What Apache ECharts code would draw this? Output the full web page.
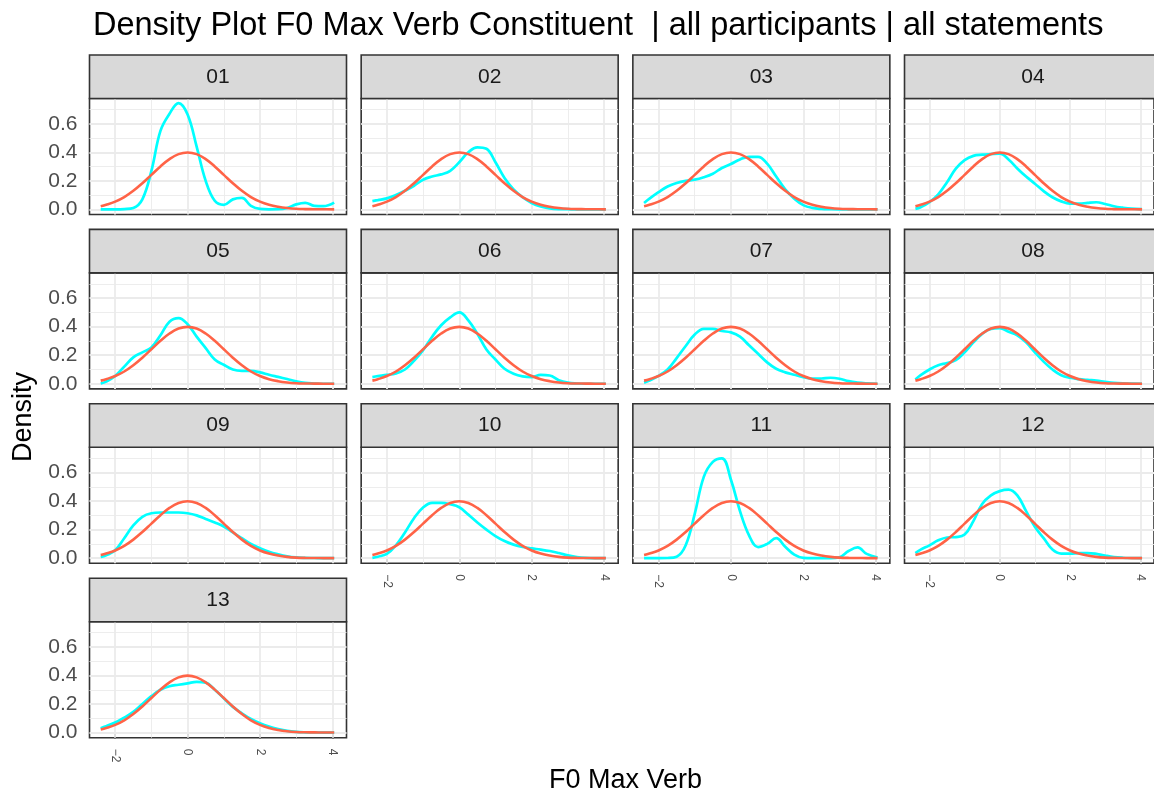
<!DOCTYPE html>
<html>
<head>
<meta charset="utf-8">
<script src="https://cdn.jsdelivr.net/npm/echarts@6/dist/echarts.min.js"></script>
<style>
  html, body { margin: 0; padding: 0; background: #ffffff; }
  #chart { width: 1154px; height: 795px; }
</style>
</head>
<body>
<div id="chart"></div>
<script>
// Facet labels (one panel per participant)
const participants = ['01', '02', '03', '04', '05', '06', '07', '08', '09', '10', '11', '12', '13'];

// Evaluation points of the density curves (F0 Max Verb, z-scored)
const fx = [-2.4, -2.25, -2.0, -1.75, -1.5, -1.25, -1.0, -0.75, -0.5, -0.25, 0, 0.25, 0.5, 0.75,
            1.0, 1.25, 1.5, 1.75, 2.0, 2.25, 2.5, 2.75, 3.0, 3.25, 3.5, 3.75, 4.05];

// Reference normal curve (same in every panel)
const normalCurve = [0.022, 0.032, 0.054, 0.086, 0.130, 0.183, 0.242, 0.301, 0.352, 0.387, 0.399, 0.387, 0.352, 0.301,
                     0.242, 0.183, 0.130, 0.086, 0.054, 0.032, 0.018, 0.009, 0.004, 0.002, 0.001, 0.0004, 0.0001];

// Observed density per participant
const d01 = [0, 0, 0, 0.002, 0.01, 0.07, 0.27, 0.55, 0.67, 0.745, 0.665, 0.44, 0.2, 0.06,
             0.032, 0.07, 0.08, 0.025, 0.003, 0, 0.001, 0.01, 0.035, 0.046, 0.025, 0.022, 0.047];
const d02 = [0.058, 0.065, 0.077, 0.1, 0.13, 0.165, 0.208, 0.23, 0.245, 0.27, 0.33, 0.4, 0.435, 0.425,
             0.33, 0.22, 0.14, 0.085, 0.045, 0.02, 0.007, 0.002, 0.001, 0, 0, 0, 0];
const d03 = [0.045, 0.075, 0.12, 0.16, 0.185, 0.2, 0.208, 0.225, 0.25, 0.29, 0.318, 0.35, 0.368, 0.368,
             0.32, 0.23, 0.14, 0.075, 0.03, 0.01, 0.003, 0.001, 0, 0, 0, 0, 0];
const d04 = [0.003, 0.015, 0.05, 0.105, 0.19, 0.285, 0.345, 0.375, 0.383, 0.387, 0.39, 0.35, 0.287, 0.23,
             0.18, 0.128, 0.085, 0.056, 0.04, 0.04, 0.046, 0.05, 0.038, 0.022, 0.012, 0.005, 0.002];
const d05 = [0.002, 0.015, 0.055, 0.12, 0.185, 0.22, 0.255, 0.34, 0.435, 0.46, 0.417, 0.33, 0.25, 0.17,
             0.133, 0.1, 0.09, 0.09, 0.08, 0.063, 0.048, 0.033, 0.017, 0.006, 0.002, 0, 0];
const d06 = [0.047, 0.053, 0.062, 0.073, 0.1, 0.16, 0.235, 0.33, 0.41, 0.465, 0.5, 0.445, 0.35, 0.24,
             0.17, 0.105, 0.07, 0.052, 0.047, 0.062, 0.058, 0.025, 0.008, 0.002, 0, 0, 0];
const d07 = [0.008, 0.022, 0.055, 0.1, 0.18, 0.265, 0.345, 0.385, 0.385, 0.37, 0.36, 0.33, 0.27, 0.21,
             0.15, 0.105, 0.08, 0.063, 0.047, 0.036, 0.037, 0.042, 0.035, 0.018, 0.008, 0.003, 0];
const d08 = [0.03, 0.06, 0.1, 0.13, 0.145, 0.165, 0.22, 0.29, 0.35, 0.385, 0.39, 0.365, 0.34, 0.29,
             0.22, 0.155, 0.1, 0.06, 0.042, 0.033, 0.027, 0.022, 0.014, 0.007, 0.003, 0.001, 0];
const d09 = [0.008, 0.02, 0.055, 0.14, 0.23, 0.29, 0.315, 0.32, 0.32, 0.32, 0.315, 0.3, 0.275, 0.25,
             0.222, 0.18, 0.14, 0.1, 0.07, 0.045, 0.027, 0.013, 0.005, 0.002, 0.001, 0, 0];
const d10 = [0.002, 0.01, 0.03, 0.09, 0.18, 0.28, 0.355, 0.388, 0.388, 0.378, 0.357, 0.305, 0.25, 0.2,
             0.155, 0.12, 0.095, 0.078, 0.068, 0.06, 0.05, 0.036, 0.02, 0.008, 0.002, 0, 0];
const d11 = [0, 0, 0, 0.001, 0.01, 0.09, 0.31, 0.57, 0.675, 0.7, 0.55, 0.33, 0.16, 0.078,
             0.1, 0.14, 0.08, 0.025, 0.002, 0, 0, 0, 0.006, 0.05, 0.075, 0.03, 0.005];
const d12 = [0.035, 0.06, 0.09, 0.125, 0.145, 0.148, 0.165, 0.26, 0.38, 0.44, 0.47, 0.48, 0.44, 0.33,
             0.22, 0.14, 0.06, 0.032, 0.032, 0.035, 0.036, 0.03, 0.018, 0.008, 0.003, 0.001, 0];
const d13 = [0.03, 0.045, 0.07, 0.105, 0.145, 0.2, 0.255, 0.3, 0.325, 0.335, 0.345, 0.355, 0.35, 0.3,
             0.24, 0.18, 0.135, 0.095, 0.065, 0.042, 0.025, 0.012, 0.005, 0.002, 0.001, 0, 0];
const densities = [d01, d02, d03, d04, d05, d06, d07, d08, d09, d10, d11, d12, d13];

// Axis breaks and labels
const xTicks = [-2, 0, 2, 4];
const xTickLabels = ['\u22122', '0', '2', '4'];
const xMinorBreaks = [-1, 1, 3];
const yTicks = [0, 0.2, 0.4, 0.6];
const yTickLabels = ['0.0', '0.2', '0.4', '0.6'];
const yMinorBreaks = [0.1, 0.3, 0.5, 0.7];

const X_RANGE = [-2.71, 4.39];
const Y_RANGE = [-0.036, 0.777];

// Facet layout (4 columns)
const L = { left: 89.5, colStep: 271.67, panelW: 257, top: 55, rowStep: 174.4, stripH: 43.5, panelH: 116, ncol: 4 };

const FONT = '"Liberation Sans", Arial, Helvetica, sans-serif';
const COL_TEXT = '#4D4D4D';
const COL_BORDER = '#333333';
const COL_GRID = '#EBEBEB';

function labelFor(ticks, labels) {
  return function (v) {
    const k = ticks.findIndex(t => Math.abs(t - v) < 1e-9);
    return k >= 0 ? labels[k] : '';
  };
}

const grids = [], xAxes = [], yAxes = [], series = [], graphics = [];

participants.forEach((p, i) => {
  const col = i % L.ncol;
  const row = Math.floor(i / L.ncol);
  const left = L.left + col * L.colStep;
  const stripTop = L.top + row * L.rowStep;
  const panelTop = stripTop + L.stripH;
  const showX = i >= participants.length - L.ncol;
  const showY = col === 0;

  grids.push({
    left: left, top: panelTop, width: L.panelW, height: L.panelH,
    show: true, backgroundColor: '#ffffff', borderColor: COL_BORDER, borderWidth: 1.6
  });

  xAxes.push({
    gridIndex: i, type: 'value', min: X_RANGE[0], max: X_RANGE[1],
    axisLine: { show: false },
    splitLine: { show: false },
    axisTick: { show: showX, length: 6, lineStyle: { color: COL_BORDER, width: 1.6 }, customValues: xTicks },
    axisLabel: {
      show: showX, customValues: xTicks, rotate: -90, margin: 11,
      fontSize: 12, fontFamily: FONT, color: COL_TEXT,
      formatter: labelFor(xTicks, xTickLabels)
    }
  });

  yAxes.push({
    gridIndex: i, type: 'value', min: Y_RANGE[0], max: Y_RANGE[1],
    axisLine: { show: false },
    splitLine: { show: false },
    axisTick: { show: showY, length: 6, lineStyle: { color: COL_BORDER, width: 1.6 }, customValues: yTicks },
    axisLabel: {
      show: showY, customValues: yTicks, margin: 12,
      fontSize: 21, fontFamily: FONT, color: COL_TEXT,
      formatter: labelFor(yTicks, yTickLabels)
    }
  });

  // panel grid lines (major + minor), kept beneath the curves
  const gridLines = [];
  xTicks.forEach(v => gridLines.push({ xAxis: v, lineStyle: { color: COL_GRID, width: 1.8, type: 'solid' } }));
  xMinorBreaks.forEach(v => gridLines.push({ xAxis: v, lineStyle: { color: COL_GRID, width: 0.9, type: 'solid' } }));
  yTicks.forEach(v => gridLines.push({ yAxis: v, lineStyle: { color: COL_GRID, width: 1.8, type: 'solid' } }));
  yMinorBreaks.forEach(v => gridLines.push({ yAxis: v, lineStyle: { color: COL_GRID, width: 0.9, type: 'solid' } }));

  series.push({
    name: 'grid-' + p, type: 'line', xAxisIndex: i, yAxisIndex: i, data: [],
    silent: true, z: 1, animation: false,
    markLine: {
      z: 1, silent: true, symbol: ['none', 'none'], animation: false,
      label: { show: false }, emphasis: { disabled: true },
      data: gridLines
    }
  });

  series.push({
    name: 'density-' + p, type: 'line', xAxisIndex: i, yAxisIndex: i,
    data: fx.map((x, k) => [x, densities[i][k]]),
    smooth: 0.4, symbol: 'none', silent: true, animation: false, z: 3,
    lineStyle: { color: '#00FFFF', width: 2.7 }
  });

  series.push({
    name: 'normal-' + p, type: 'line', xAxisIndex: i, yAxisIndex: i,
    data: fx.map((x, k) => [x, normalCurve[k]]),
    smooth: 0.4, symbol: 'none', silent: true, animation: false, z: 4,
    lineStyle: { color: '#FF6347', width: 2.6 }
  });

  // facet strip
  graphics.push({
    type: 'rect', z: 10, silent: true,
    shape: { x: left, y: stripTop, width: L.panelW, height: L.stripH },
    style: { fill: '#D9D9D9', stroke: COL_BORDER, lineWidth: 1.6 }
  });
  graphics.push({
    type: 'text', z: 11, silent: true,
    x: left + L.panelW / 2, y: stripTop + L.stripH / 2,
    style: { text: p, fontSize: 21, fontFamily: FONT, fill: '#1A1A1A', align: 'center', verticalAlign: 'middle' }
  });
});

// plot title and axis titles
graphics.push({
  type: 'text', z: 11, silent: true, x: 93, y: 26,
  style: { text: 'Density Plot F0 Max Verb Constituent  | all participants | all statements',
           fontSize: 32.5, fontFamily: FONT, fill: '#000000', align: 'left', verticalAlign: 'middle' }
});
graphics.push({
  type: 'text', z: 11, silent: true, x: 625.5, y: 781,
  style: { text: 'F0 Max Verb', fontSize: 27, fontFamily: FONT, fill: '#000000', align: 'center', verticalAlign: 'middle' }
});
graphics.push({
  type: 'text', z: 11, silent: true, x: 24, y: 417, rotation: Math.PI / 2,
  style: { text: 'Density', fontSize: 27, fontFamily: FONT, fill: '#000000', align: 'center', verticalAlign: 'middle' }
});

const chart = echarts.init(document.getElementById('chart'), null, { renderer: 'canvas' });
chart.setOption({
  backgroundColor: '#ffffff',
  animation: false,
  grid: grids,
  xAxis: xAxes,
  yAxis: yAxes,
  series: series,
  graphic: graphics
});
</script>
</body>
</html>
